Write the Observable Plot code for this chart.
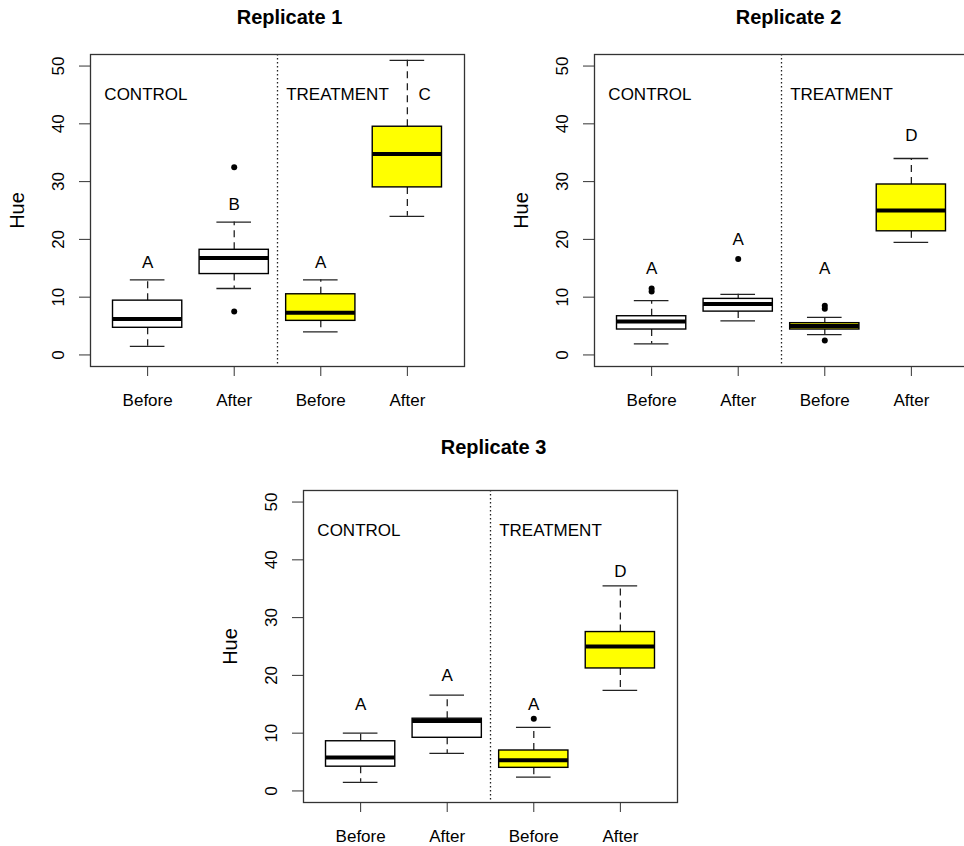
<!DOCTYPE html>
<html><head><meta charset="utf-8">
<script src="https://cdn.jsdelivr.net/npm/d3@7"></script>
<script src="https://cdn.jsdelivr.net/npm/@observablehq/plot@0.6"></script>
<style>
html,body{margin:0;padding:0;background:#fff;overflow:hidden;}
#wrap{position:relative;width:964px;height:846px;overflow:hidden;background:#fff;}
.panel{position:absolute;width:482px;height:420px;}
.panel svg{max-width:none !important;}
</style></head><body><div id="wrap"></div>
<script>
// ---- data ----
const groups = ["Before", "After", "Before", "After"];
const treatment = ["CONTROL", "CONTROL", "TREATMENT", "TREATMENT"];
const sectionLabels = ["CONTROL", "TREATMENT"];
const sectionX = [0.5, 2.6];
const sectionY = 45;
const yTicks = [0, 10, 20, 30, 40, 50];
const titles = ["Replicate 1", "Replicate 2", "Replicate 3"];

// Replicate 1
const r1Lower  = [1.5, 11.5, 4.0, 24.0];
const r1Q1     = [4.7, 14.0, 5.9, 29.0];
const r1Median = [6.2, 16.8, 7.3, 34.8];
const r1Q3     = [9.4, 18.2, 10.5, 39.5];
const r1Upper  = [13.0, 23.0, 13.0, 51.0];
const r1Outliers = [[], [32.5, 7.5], [], []];
const r1Letters = ["A", "B", "A", "C"];
const r1LetterX = [1, 2, 3, 4.2];
const r1LetterY = [16, 26, 16, 45];

// Replicate 2
const r2Lower  = [1.9, 5.9, 3.5, 19.5];
const r2Q1     = [4.4, 7.5, 4.4, 21.4];
const r2Median = [5.8, 8.8, 5.0, 25.0];
const r2Q3     = [6.7, 9.7, 5.5, 29.5];
const r2Upper  = [9.4, 10.5, 6.5, 34.0];
const r2Outliers = [[11.0, 11.5], [16.6], [8.0, 8.5, 2.5], []];
const r2Letters = ["A", "A", "A", "D"];
const r2LetterX = [1, 2, 3, 4];
const r2LetterY = [15, 20, 15, 38];

// Replicate 3
const r3Lower  = [1.5, 6.5, 2.4, 17.4];
const r3Q1     = [4.2, 9.2, 4.0, 21.2];
const r3Median = [5.8, 12.1, 5.3, 25.0];
const r3Q3     = [8.6, 12.5, 7.0, 27.5];
const r3Upper  = [10.0, 16.6, 11.0, 35.5];
const r3Outliers = [[], [], [12.5], []];
const r3Letters = ["A", "A", "A", "D"];
const r3LetterX = [1, 2, 3, 4];
const r3LetterY = [15, 20, 15, 38];

// ---- layout ----
const layout = [
  {left: 0,   top: 0,   titleDx: 12, titleDy: -31},
  {left: 504, top: 0,   titleDx: 7,  titleDy: -31},
  {left: 213, top: 436, titleDx: 3,  titleDy: -37}
];

function buildRows(lower, q1, med, q3, upper, letters, lx, ly) {
  return groups.map((g, i) => ({
    x: i + 1, group: g, treatment: treatment[i],
    lower: lower[i], q1: q1[i], median: med[i], q3: q3[i], upper: upper[i],
    letter: letters[i], lx: lx[i], ly: ly[i]
  }));
}
function buildOut(outs) {
  const o = [];
  outs.forEach((arr, i) => arr.forEach(v => o.push({x: i + 1, v})));
  return o;
}

const reps = [
  {rows: buildRows(r1Lower, r1Q1, r1Median, r1Q3, r1Upper, r1Letters, r1LetterX, r1LetterY), out: buildOut(r1Outliers)},
  {rows: buildRows(r2Lower, r2Q1, r2Median, r2Q3, r2Upper, r2Letters, r2LetterX, r2LetterY), out: buildOut(r2Outliers)},
  {rows: buildRows(r3Lower, r3Q1, r3Median, r3Q3, r3Upper, r3Letters, r3LetterX, r3LetterY), out: buildOut(r3Outliers)}
];

const HALF = 0.4, CAP = 0.2;
const ink = "#222";

function panel(k) {
  const {rows, out} = reps[k];
  const L = layout[k];
  return Plot.plot({
    width: 482, height: 420,
    marginLeft: 90, marginRight: 18, marginTop: 54, marginBottom: 54,
    style: {fontFamily: "'Liberation Sans', Arial, sans-serif", fontSize: "17px", background: "transparent", overflow: "visible", maxWidth: "none"},
    x: {domain: [0.34, 4.66]},
    y: {domain: [-2, 52]},
    color: {domain: sectionLabels, range: ["white", "#ffff00"]},
    marks: [
      Plot.ruleX([2.5], {stroke: ink, strokeWidth: 1.3, strokeDasharray: "1.5,2.5"}),
      Plot.ruleX(rows, {x: "x", y1: "q3", y2: "upper", stroke: ink, strokeWidth: 1.3, strokeDasharray: "7,5"}),
      Plot.ruleX(rows, {x: "x", y1: "q1", y2: "lower", stroke: ink, strokeWidth: 1.3, strokeDasharray: "7,5"}),
      Plot.ruleY(rows, {y: "upper", x1: d => d.x - CAP, x2: d => d.x + CAP, stroke: ink, strokeWidth: 1.3}),
      Plot.ruleY(rows, {y: "lower", x1: d => d.x - CAP, x2: d => d.x + CAP, stroke: ink, strokeWidth: 1.3}),
      Plot.rect(rows, {x1: d => d.x - HALF, x2: d => d.x + HALF, y1: "q1", y2: "q3", fill: "treatment", stroke: "black", strokeWidth: 1.4}),
      Plot.ruleY(rows, {y: "median", x1: d => d.x - HALF, x2: d => d.x + HALF, stroke: "black", strokeWidth: 4}),
      Plot.dot(out, {x: "x", y: "v", r: 3, fill: "black", stroke: null}),
      Plot.text(rows, {x: "lx", y: "ly", text: "letter", fontSize: 17, fill: "black"}),
      Plot.text(sectionLabels, {x: (d, i) => sectionX[i], y: () => sectionY, text: d => d, textAnchor: "start", fontSize: 17, fill: "black"}),
      Plot.axisY(yTicks, {tickSize: 11, tickPadding: 16, tickRotate: -90, textAnchor: "middle", lineAnchor: "bottom", fontSize: 17, stroke: "#333", fill: "black", label: null}),
      Plot.axisX([1, 2, 3, 4], {tickSize: 10, tickPadding: 17, tickFormat: d => groups[d - 1], fontSize: 17, stroke: "#333", fill: "black", label: null}),
      Plot.text(["Hue"], {frameAnchor: "left", rotate: -90, dx: -67, lineAnchor: "bottom", textAnchor: "middle", fontSize: 20, fill: "black"}),
      Plot.text([titles[k]], {frameAnchor: "top", dx: L.titleDx, dy: L.titleDy, lineAnchor: "bottom", fontWeight: "bold", fontSize: 20, fill: "black"}),
      Plot.frame({stroke: "#333", strokeWidth: 1.3})
    ]
  });
}

const wrap = document.getElementById("wrap");
for (let k = 0; k < 3; k++) {
  const div = document.createElement("div");
  div.className = "panel";
  div.style.left = layout[k].left + "px";
  div.style.top = layout[k].top + "px";
  div.appendChild(panel(k));
  wrap.appendChild(div);
}
</script></body></html>
